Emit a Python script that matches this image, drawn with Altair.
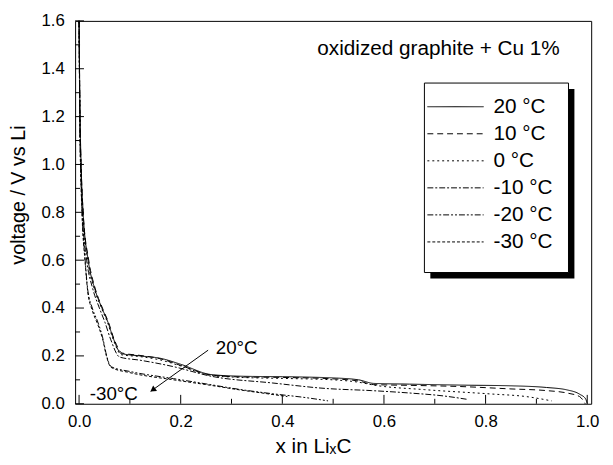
import altair as alt
import pandas as pd

# ---------------- data ----------------
series = ["20 °C", "10 °C", "0 °C", "-10 °C", "-20 °C", "-30 °C"]

x20 = [0, 0.002, 0.004, 0.008, 0.018, 0.031, 0.045, 0.057, 0.068, 0.083, 0.12, 0.16, 0.2, 0.26, 0.32, 0.4, 0.5, 0.55, 0.58, 0.65, 0.75, 0.85, 0.92, 0.96, 0.985, 0.997, 1.0]
y20 = [1.6, 1.2, 1.0, 0.8, 0.6, 0.48, 0.4, 0.34, 0.27, 0.21, 0.2, 0.19, 0.165, 0.122, 0.115, 0.113, 0.108, 0.1, 0.085, 0.082, 0.078, 0.075, 0.068, 0.058, 0.04, 0.02, 0.0]

x10 = [0, 0.002, 0.004, 0.008, 0.019, 0.032, 0.046, 0.058, 0.069, 0.085, 0.12, 0.16, 0.2, 0.26, 0.32, 0.4, 0.5, 0.55, 0.58, 0.65, 0.75, 0.85, 0.92, 0.96, 0.985, 0.996]
y10 = [1.6, 1.18, 1.0, 0.8, 0.6, 0.48, 0.4, 0.34, 0.27, 0.212, 0.202, 0.188, 0.16, 0.12, 0.112, 0.11, 0.104, 0.095, 0.08, 0.077, 0.072, 0.062, 0.055, 0.045, 0.03, 0.0]

x0 = [0, 0.002, 0.004, 0.008, 0.017, 0.03, 0.044, 0.056, 0.067, 0.083, 0.12, 0.16, 0.2, 0.26, 0.32, 0.4, 0.5, 0.55, 0.58, 0.68, 0.81, 0.88, 0.93]
y0 = [1.6, 1.15, 0.98, 0.79, 0.6, 0.48, 0.4, 0.34, 0.27, 0.205, 0.197, 0.183, 0.158, 0.118, 0.11, 0.106, 0.1, 0.09, 0.078, 0.059, 0.041, 0.03, 0.012]

xm10 = [0, 0.002, 0.004, 0.007, 0.015, 0.027, 0.04, 0.051, 0.062, 0.08, 0.12, 0.186, 0.26, 0.38, 0.485, 0.575, 0.65, 0.72, 0.765]
ym10 = [1.6, 1.12, 0.96, 0.78, 0.6, 0.48, 0.4, 0.34, 0.27, 0.195, 0.182, 0.155, 0.115, 0.087, 0.064, 0.055, 0.045, 0.032, 0.018]

xm20 = [0, 0.002, 0.003, 0.006, 0.012, 0.017, 0.026, 0.037, 0.047, 0.054, 0.063, 0.1, 0.186, 0.25, 0.316, 0.38, 0.445, 0.49]
ym20 = [1.6, 1.1, 1.0, 0.8, 0.6, 0.478, 0.4, 0.341, 0.272, 0.203, 0.155, 0.135, 0.105, 0.083, 0.06, 0.042, 0.026, 0.012]

xm30 = [0, 0.002, 0.003, 0.006, 0.012, 0.017, 0.026, 0.037, 0.047, 0.054, 0.063, 0.1, 0.186, 0.25, 0.316, 0.37, 0.41]
ym30 = [1.6, 1.08, 0.98, 0.78, 0.59, 0.47, 0.39, 0.33, 0.265, 0.198, 0.152, 0.13, 0.1, 0.08, 0.058, 0.042, 0.03]

x_major = [0.0, 0.2, 0.4, 0.6, 0.8, 1.0]
x_minor = [0.1, 0.3, 0.5, 0.7, 0.9]
y_major = [0.0, 0.2, 0.4, 0.6, 0.8, 1.0, 1.2, 1.4, 1.6]
y_minor = [0.1, 0.3, 0.5, 0.7, 0.9, 1.1, 1.3, 1.5]

ann_text = ["20°C", "-30°C"]
ann_x = [0.269, 0.021]
ann_y = [0.21, 0.0165]

title_text = "oxidized graphite + Cu 1%"
arrow_x = [0.254, 0.141]
arrow_y = [0.224, 0.052]

# ---------------- styles ----------------
dashes = [[1, 0], [6, 4], [2, 3], [6, 2, 2, 2], [6, 2, 2, 2, 2, 2], [3, 2]]
FONT = "Liberation Sans"
W, H = 523, 388
XDOM = [-0.0078, 1.0078]
YDOM = [0.0, 1.6]

rows = []
for name, xs, ys in zip(series, [x20, x10, x0, xm10, xm20, xm30], [y20, y10, y0, ym10, ym20, ym30]):
    for i, (a, b) in enumerate(zip(xs, ys)):
        rows.append({"series": name, "x": a, "y": b, "i": i})
df = pd.DataFrame(rows)

xscale = alt.Scale(domain=XDOM, nice=False, zero=False)
yscale = alt.Scale(domain=YDOM, nice=False, zero=False)

xaxis = alt.Axis(
    values=x_major, format=".1f", ticks=False, domain=False, grid=False,
    labelFontSize=17, labelPadding=10, labelFlush=False,
    title="x in LiₓC", titleFontSize=21, titleFontWeight="normal",
    titleX=241, titleY=49, titleBaseline="alphabetic", titleAlign="center")
yaxis = alt.Axis(
    values=y_major, format=".1f", ticks=False, domain=False, grid=False,
    labelFontSize=17, labelPadding=11,
    title="voltage / V vs Li", titleFontSize=20, titleFontWeight="normal",
    titleAngle=270, titleX=-51, titleY=176, titleBaseline="alphabetic", titleAlign="center")


def X(field):
    return alt.X(field, scale=xscale, axis=xaxis)


def Y(field):
    return alt.Y(field, scale=yscale, axis=yaxis)


curves = alt.Chart(df).mark_line(color="black", strokeWidth=1, interpolate="monotone").encode(
    x=X("x:Q"),
    y=Y("y:Q"),
    strokeDash=alt.StrokeDash("series:N", scale=alt.Scale(domain=series, range=dashes), legend=None),
    detail="series:N",
    order="i:Q",
)


def tick_layer(vals, length, axis):
    d = pd.DataFrame({"x": vals, "y": vals})
    if axis == "x":
        return alt.Chart(d).mark_rule(color="black", strokeWidth=1).encode(
            x=X("x:Q"), y=alt.value(H), y2=alt.value(H - length))
    return alt.Chart(d).mark_rule(color="black", strokeWidth=1).encode(
        y=Y("y:Q"), x=alt.value(0), x2=alt.value(length))


ticks = [tick_layer(x_major, 9, "x"), tick_layer(x_minor, 5, "x"),
         tick_layer(y_major, 9, "y"), tick_layer(y_minor, 5, "y")]

one = alt.Data(values=[{"k": 0}])

shadow = alt.Chart(one).mark_rect(color="black").encode(
    x=alt.value(360), x2=alt.value(506), y=alt.value(69), y2=alt.value(261))
box = alt.Chart(one).mark_rect(fill="white", stroke="black", strokeWidth=1).encode(
    x=alt.value(354), x2=alt.value(500), y=alt.value(63), y2=alt.value(255))

legend_layers = []
for i, (name, d) in enumerate(zip(series, dashes)):
    yv = 87 + i * 27.4
    legend_layers.append(alt.Chart(one).mark_rule(color="black", strokeWidth=1, strokeDash=d).encode(
        x=alt.value(357), x2=alt.value(414), y=alt.value(yv)))
    legend_layers.append(alt.Chart(one).mark_text(align="left", baseline="middle", fontSize=21, font=FONT, color="black").encode(
        x=alt.value(424), y=alt.value(yv), text=alt.value(name)))

ann = alt.Chart(pd.DataFrame({"x": ann_x, "y": ann_y, "t": ann_text})).mark_text(
    align="left", baseline="alphabetic", fontSize=19, font=FONT, color="black").encode(
    x=X("x:Q"), y=Y("y:Q"), text="t:N")

title = alt.Chart(pd.DataFrame({"x": [0.946], "y": [1.457], "t": [title_text]})).mark_text(
    align="right", baseline="alphabetic", fontSize=21, font=FONT, color="black").encode(
    x=X("x:Q"), y=Y("y:Q"), text="t:N")

arrow_line = alt.Chart(pd.DataFrame({"x": arrow_x, "y": arrow_y})).mark_line(color="black", strokeWidth=1).encode(
    x=X("x:Q"), y=Y("y:Q"))

# arrow head placed a few pixels back from the tip, along the arrow direction
kx = W / (XDOM[1] - XDOM[0])
ky = H / (YDOM[1] - YDOM[0])
dxp = (arrow_x[0] - arrow_x[1]) * kx
dyp = (arrow_y[0] - arrow_y[1]) * ky
L = (dxp ** 2 + dyp ** 2) ** 0.5
back = 3.5
head_x = arrow_x[1] + dxp / L * back / kx
head_y = arrow_y[1] + dyp / L * back / ky
arrow_head = alt.Chart(pd.DataFrame({"x": [head_x], "y": [head_y]})).mark_point(
    shape="triangle", filled=True, size=45, angle=234.5, color="black", opacity=1).encode(
    x=X("x:Q"), y=Y("y:Q"))

chart = alt.layer(
    shadow, box, curves, *ticks, *legend_layers, ann, title, arrow_line, arrow_head
).properties(
    width=W, height=H,
    autosize=alt.AutoSizeParams(type="none"),
    padding={"left": 68, "top": 10, "right": 14, "bottom": 59},
    background="white",
).configure_view(
    stroke="black", strokeWidth=1
).configure_axis(
    labelFont=FONT, titleFont=FONT, labelColor="black", titleColor="black"
)

chart.save("out.html", embed_options={"renderer": "svg", "actions": False})
